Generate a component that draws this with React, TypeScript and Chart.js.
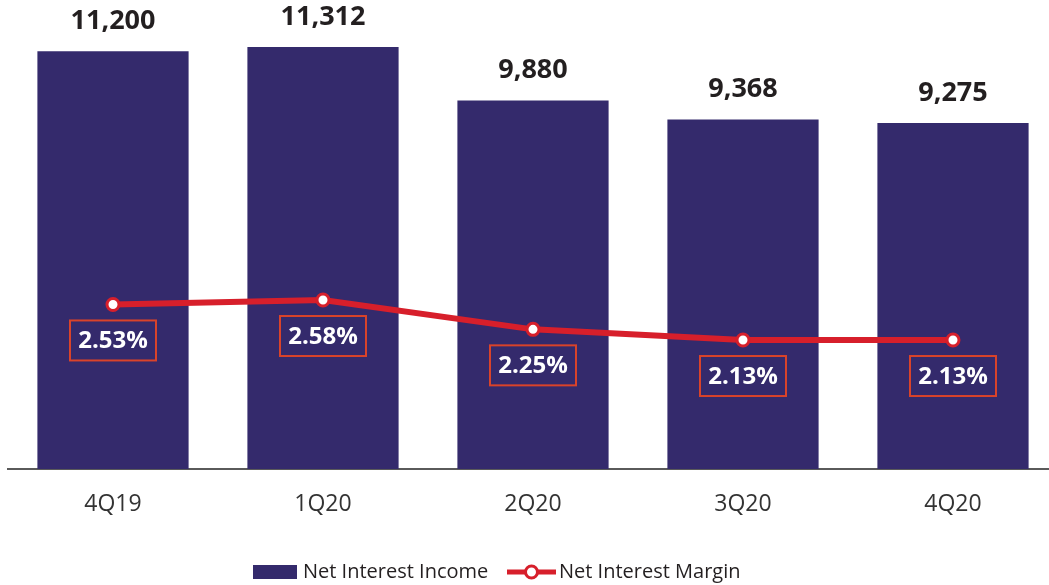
import React, { useEffect, useRef } from "react";
import { Chart, registerables } from "chart.js";

Chart.register(...registerables);

const categories = ["4Q19", "1Q20", "2Q20", "3Q20", "4Q20"];
const netInterestIncome = [11200, 11312, 9880, 9368, 9275];
const netInterestMargin = [2.53, 2.58, 2.25, 2.13, 2.13];
const incomeLabels = ["11,200", "11,312", "9,880", "9,368", "9,275"];
const marginLabels = ["2.53%", "2.58%", "2.25%", "2.13%", "2.13%"];
const seriesNames = ["Net Interest Income", "Net Interest Margin"];

const NAVY = "#342A6C";
const RED = "#D71F2B";
const BOX = "#D9432A";
const FONT = "'Open Sans', sans-serif";

const labelPlugin = {
  id: "customLabels",
  afterDatasetsDraw(chart: any) {
    const ctx = chart.ctx;
    const bars = chart.getDatasetMeta(0).data;
    const pts = chart.getDatasetMeta(1).data;
    ctx.save();
    ctx.textAlign = "center";
    ctx.textBaseline = "middle";
    ctx.fillStyle = "#231F20";
    ctx.font = `bold 27px ${FONT}`;
    bars.forEach((b: any, i: number) => {
      ctx.fillText(incomeLabels[i], b.x, b.y - 30);
    });
    ctx.font = `bold 24px ${FONT}`;
    pts.forEach((p: any, i: number) => {
      const w = 86, h = 40;
      const top = p.y + 16;
      ctx.strokeStyle = BOX;
      ctx.lineWidth = 2;
      ctx.strokeRect(p.x - w / 2, top, w, h);
      ctx.fillStyle = "#FFFFFF";
      ctx.fillText(marginLabels[i], p.x, top + h / 2 + 1);
    });
    ctx.restore();
  },
  afterDraw(chart: any) {
    const ctx = chart.ctx;
    ctx.save();
    ctx.font = `20px ${FONT}`;
    ctx.textBaseline = "middle";
    ctx.textAlign = "left";
    const cy = 572;
    ctx.fillStyle = NAVY;
    ctx.fillRect(253, 565, 44, 14);
    ctx.fillStyle = "#231F20";
    ctx.fillText(seriesNames[0], 303, cy);
    ctx.strokeStyle = RED;
    ctx.lineWidth = 5;
    ctx.beginPath();
    ctx.moveTo(507, cy);
    ctx.lineTo(556, cy);
    ctx.stroke();
    ctx.beginPath();
    ctx.arc(531.5, cy, 6, 0, Math.PI * 2);
    ctx.fillStyle = "#FFFFFF";
    ctx.fill();
    ctx.lineWidth = 3;
    ctx.stroke();
    ctx.fillStyle = "#231F20";
    ctx.fillText(seriesNames[1], 559, cy);
    ctx.restore();
  },
};

export default function App() {
  const ref = useRef<HTMLCanvasElement | null>(null);
  useEffect(() => {
    if (!ref.current) return;
    const chart = new Chart(ref.current, {
      type: "bar",
      data: {
        labels: categories,
        datasets: [
          {
            type: "bar",
            label: seriesNames[0],
            data: netInterestIncome,
            backgroundColor: NAVY,
            barPercentage: 0.72,
            categoryPercentage: 1,
            yAxisID: "y",
            order: 1,
          },
          {
            type: "line",
            label: seriesNames[1],
            data: netInterestMargin,
            borderColor: RED,
            borderWidth: 6,
            pointRadius: 6,
            pointBorderWidth: 3,
            pointBackgroundColor: "#FFFFFF",
            pointBorderColor: RED,
            tension: 0,
            yAxisID: "y1",
            order: 0,
          } as any,
        ],
      },
      options: {
        animation: false,
        responsive: false,
        maintainAspectRatio: false,
        layout: { autoPadding: false, padding: { left: 8, right: 2, top: 0, bottom: 68 } },
        plugins: { legend: { display: false }, tooltip: { enabled: false } },
        scales: {
          x: {
            grid: { display: false, drawTicks: false },
            border: { display: true, color: "#5A5A5A", width: 2 },
            ticks: { color: "#333333", font: { family: FONT, size: 23 }, padding: 22 },
            afterFit: (s: any) => {
              s.height = 48;
            },
          },
          y: { display: false, min: 0, max: 12571 },
          y1: { display: false, min: 0.679, max: 5.955 },
        },
      },
      plugins: [labelPlugin],
    });
    return () => chart.destroy();
  }, []);
  return (
    <div style={{ position: "fixed", left: 0, top: 0, width: 1049, height: 585, overflow: "hidden", background: "#fff" }}>
      <canvas ref={ref} width={1060} height={585} style={{ display: "block", width: 1060, height: 585 }} />
    </div>
  );
}
